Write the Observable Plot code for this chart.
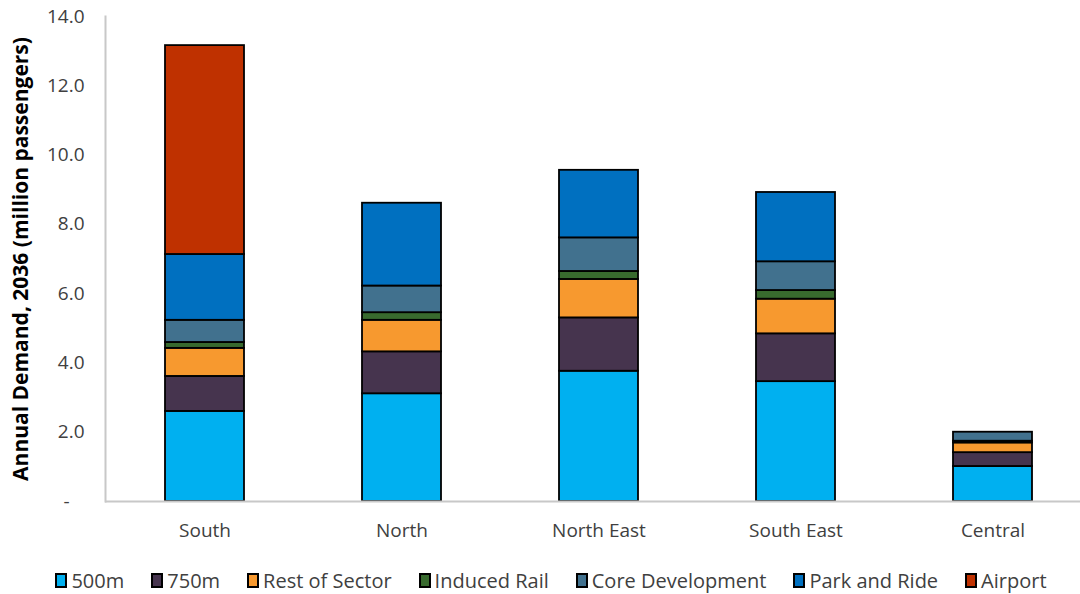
<!DOCTYPE html>
<html>
<head>
<meta charset="utf-8">
<script src="https://cdn.jsdelivr.net/npm/d3@7"></script>
<script src="https://cdn.jsdelivr.net/npm/@observablehq/plot@0.6"></script>
<style>
  html, body { margin: 0; padding: 0; background: #fff; }
  body { width: 1080px; height: 594px; overflow: hidden; font-family: "Open Sans", sans-serif; }
  #legend { display: flex; justify-content: center; align-items: center; gap: 27px; height: 40px; margin-top: 10px; font-size: 20px; color: #404040; padding-left: 22px; }
  #legend .item { display: flex; align-items: center; gap: 4px; }
  #legend .sw { width: 12px; height: 15px; border: 2px solid #000; box-sizing: border-box; }
</style>
</head>
<body>
<div id="chart"></div>
<div id="legend"></div>
<script>
const regions = ["South", "North", "North East", "South East", "Central"];
const series = ["500m", "750m", "Rest of Sector", "Induced Rail", "Core Development", "Park and Ride", "Airport"];
const colors = ["#00b0f0", "#46344e", "#f7992f", "#386a2e", "#41718e", "#0070c0", "#bf3100"];

// values per series, in region order
const v500m      = [2.60, 3.11, 3.76, 3.46, 1.01];
const v750m      = [1.01, 1.21, 1.54, 1.38, 0.40];
const vRest      = [0.81, 0.91, 1.11, 1.00, 0.28];
const vInduced   = [0.17, 0.22, 0.23, 0.25, 0.05];
const vCore      = [0.64, 0.77, 0.97, 0.83, 0.26];
const vParkRide  = [1.90, 2.39, 1.95, 2.00, 0.00];
const vAirport   = [6.03, 0.00, 0.00, 0.00, 0.00];

const yTicks = [0, 2, 4, 6, 8, 10, 12, 14];
const yTitle = "Annual Demand, 2036 (million passengers)";

const seriesValues = [v500m, v750m, vRest, vInduced, vCore, vParkRide, vAirport];
const data = [];
series.forEach((s, i) => {
  regions.forEach((r, j) => {
    const v = seriesValues[i][j];
    if (v > 0) data.push({region: r, series: s, value: v});
  });
});

const font = "'Open Sans', sans-serif";

const chart = Plot.plot({
  width: 1080,
  height: 550,
  marginTop: 16,
  marginBottom: 49,
  marginLeft: 105,
  marginRight: 0,
  style: {fontFamily: font, fontSize: "19px", color: "#404040", background: "#fff"},
  x: {domain: regions, range: [105, 1091], paddingInner: 0.6, paddingOuter: 0.3, label: null},
  y: {domain: [0, 14], label: null},
  color: {domain: series, range: colors},
  marks: [
    Plot.barY(data, {x: "region", y: "value", fill: "series", stroke: "#000", strokeWidth: 1.8}),
    Plot.ruleY([0], {stroke: "#c8c8c8", strokeWidth: 2}),
    Plot.frame({anchor: "left", stroke: "#c8c8c8", strokeWidth: 2}),
    Plot.axisY({ticks: yTicks, tickSize: 0, tickPadding: 21, label: null,
      tickFormat: d => d === 0 ? "-\u00a0\u00a0\u00a0" : d.toFixed(1), fontSize: 19}),
    Plot.axisX({tickSize: 0, tickPadding: 22, label: null, fontSize: 19}),
    Plot.text([yTitle], {frameAnchor: "left", rotate: -90, dx: -84, textAnchor: "middle",
      fontWeight: "bold", fontSize: 21, fill: "#000", fontFamily: font})
  ]
});
document.getElementById("chart").appendChild(chart);

const legend = document.getElementById("legend");
series.forEach((s, i) => {
  const item = document.createElement("div");
  item.className = "item";
  const sw = document.createElement("div");
  sw.className = "sw";
  sw.style.background = colors[i];
  const t = document.createElement("span");
  t.textContent = s;
  item.appendChild(sw);
  item.appendChild(t);
  legend.appendChild(item);
});
</script>
</body>
</html>
